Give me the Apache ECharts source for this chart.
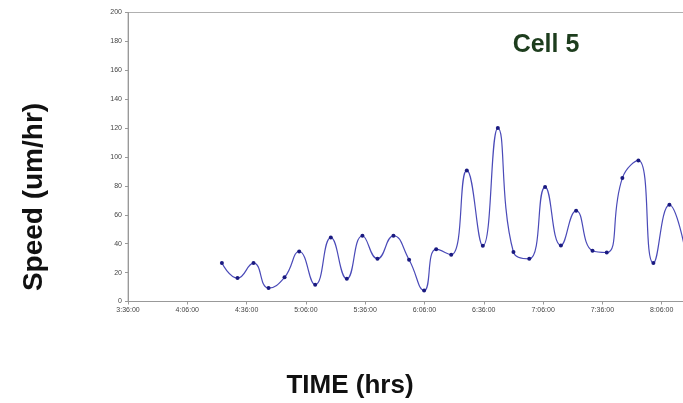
<!DOCTYPE html>
<html><head><meta charset="utf-8">
<script src="https://cdn.jsdelivr.net/npm/echarts@6/dist/echarts.min.js"></script>
<style>html,body{margin:0;padding:0;background:#fff}#c{width:683px;height:403px}</style>
</head><body><div id="c"></div>
<script>
var times = ["4:23:30","4:31:24","4:39:30","4:47:06","4:55:12","5:02:36","5:10:42","5:18:36","5:26:42","5:34:36","5:42:12","5:50:18","5:58:12","6:05:48","6:11:54","6:19:30","6:27:24","6:35:30","6:43:06","6:51:00","6:59:00","7:07:00","7:15:00","7:22:42","7:31:00","7:38:12","7:46:06","7:54:12","8:01:48","8:09:54","8:17:48"];
var speeds = [26.6,16.2,26.6,9.3,16.7,34.6,11.6,44.3,15.7,45.5,29.5,45.5,28.9,7.6,36.2,32.3,90.7,38.5,120,34.2,29.5,79.2,38.8,62.8,35.1,33.9,85.4,97.6,26.6,66.9,36];
var yTicks = [0,20,40,60,80,100,120,140,160,180,200];
var startTime = "3:36:00";
function toMin(s){var p=s.split(":").map(Number);return p[0]*60+p[1]+(p[2]||0)/60;}
var base = toMin(startTime);
function fmt(m){var t=Math.round(base+m);var h=Math.floor(t/60),mm=t%60;return h+":"+(mm<10?"0":"")+mm+":00";}
var data = times.map(function(t,i){return [toMin(t)-base, speeds[i]];});
var chart = echarts.init(document.getElementById('c'));
chart.setOption({
  animation:false,
  backgroundColor:'#fff',
  grid:{left:128,top:12.5,bottom:101.5,width:593,outerBoundsMode:'none',containLabel:false,show:true,borderColor:'#b0b0b0',borderWidth:1},
  graphic:[
    {type:'text',style:{text:'Cell 5',font:'bold 25px "Liberation Sans"',fill:'#1d3d1d',textAlign:'center',textVerticalAlign:'middle'},x:546,y:45},
    {type:'text',style:{text:'Speed (um/hr)',font:'bold 28px "Liberation Sans"',fill:'#111',textAlign:'center',textVerticalAlign:'middle'},x:34,y:197,rotation:Math.PI/2},
    {type:'text',style:{text:'TIME (hrs)',font:'bold 26px "Liberation Sans"',fill:'#111',textAlign:'center',textVerticalAlign:'middle'},x:350,y:386}
  ],
  xAxis:{type:'value',min:0,max:300,interval:30,
    axisLine:{lineStyle:{color:'#999'}},axisTick:{length:3,lineStyle:{color:'#999'}},splitLine:{show:false},
    axisLabel:{formatter:function(v){return fmt(v);},fontSize:7,color:'#444',fontFamily:'Liberation Sans',margin:5}},
  yAxis:{type:'value',min:0,max:200,interval:20,
    axisLine:{show:true,lineStyle:{color:'#999'}},axisTick:{show:true,length:3,lineStyle:{color:'#999'}},splitLine:{show:false},
    axisLabel:{fontSize:7,color:'#444',fontFamily:'Liberation Sans',margin:6,
      formatter:function(v){return yTicks.indexOf(v)>=0?String(v):'';}}},
  series:[{type:'line',data:data,smooth:0.5,symbol:'circle',symbolSize:4,
    lineStyle:{color:'#4a4ab8',width:1.2},itemStyle:{color:'#1a1a80'}}]
});
</script></body></html>
